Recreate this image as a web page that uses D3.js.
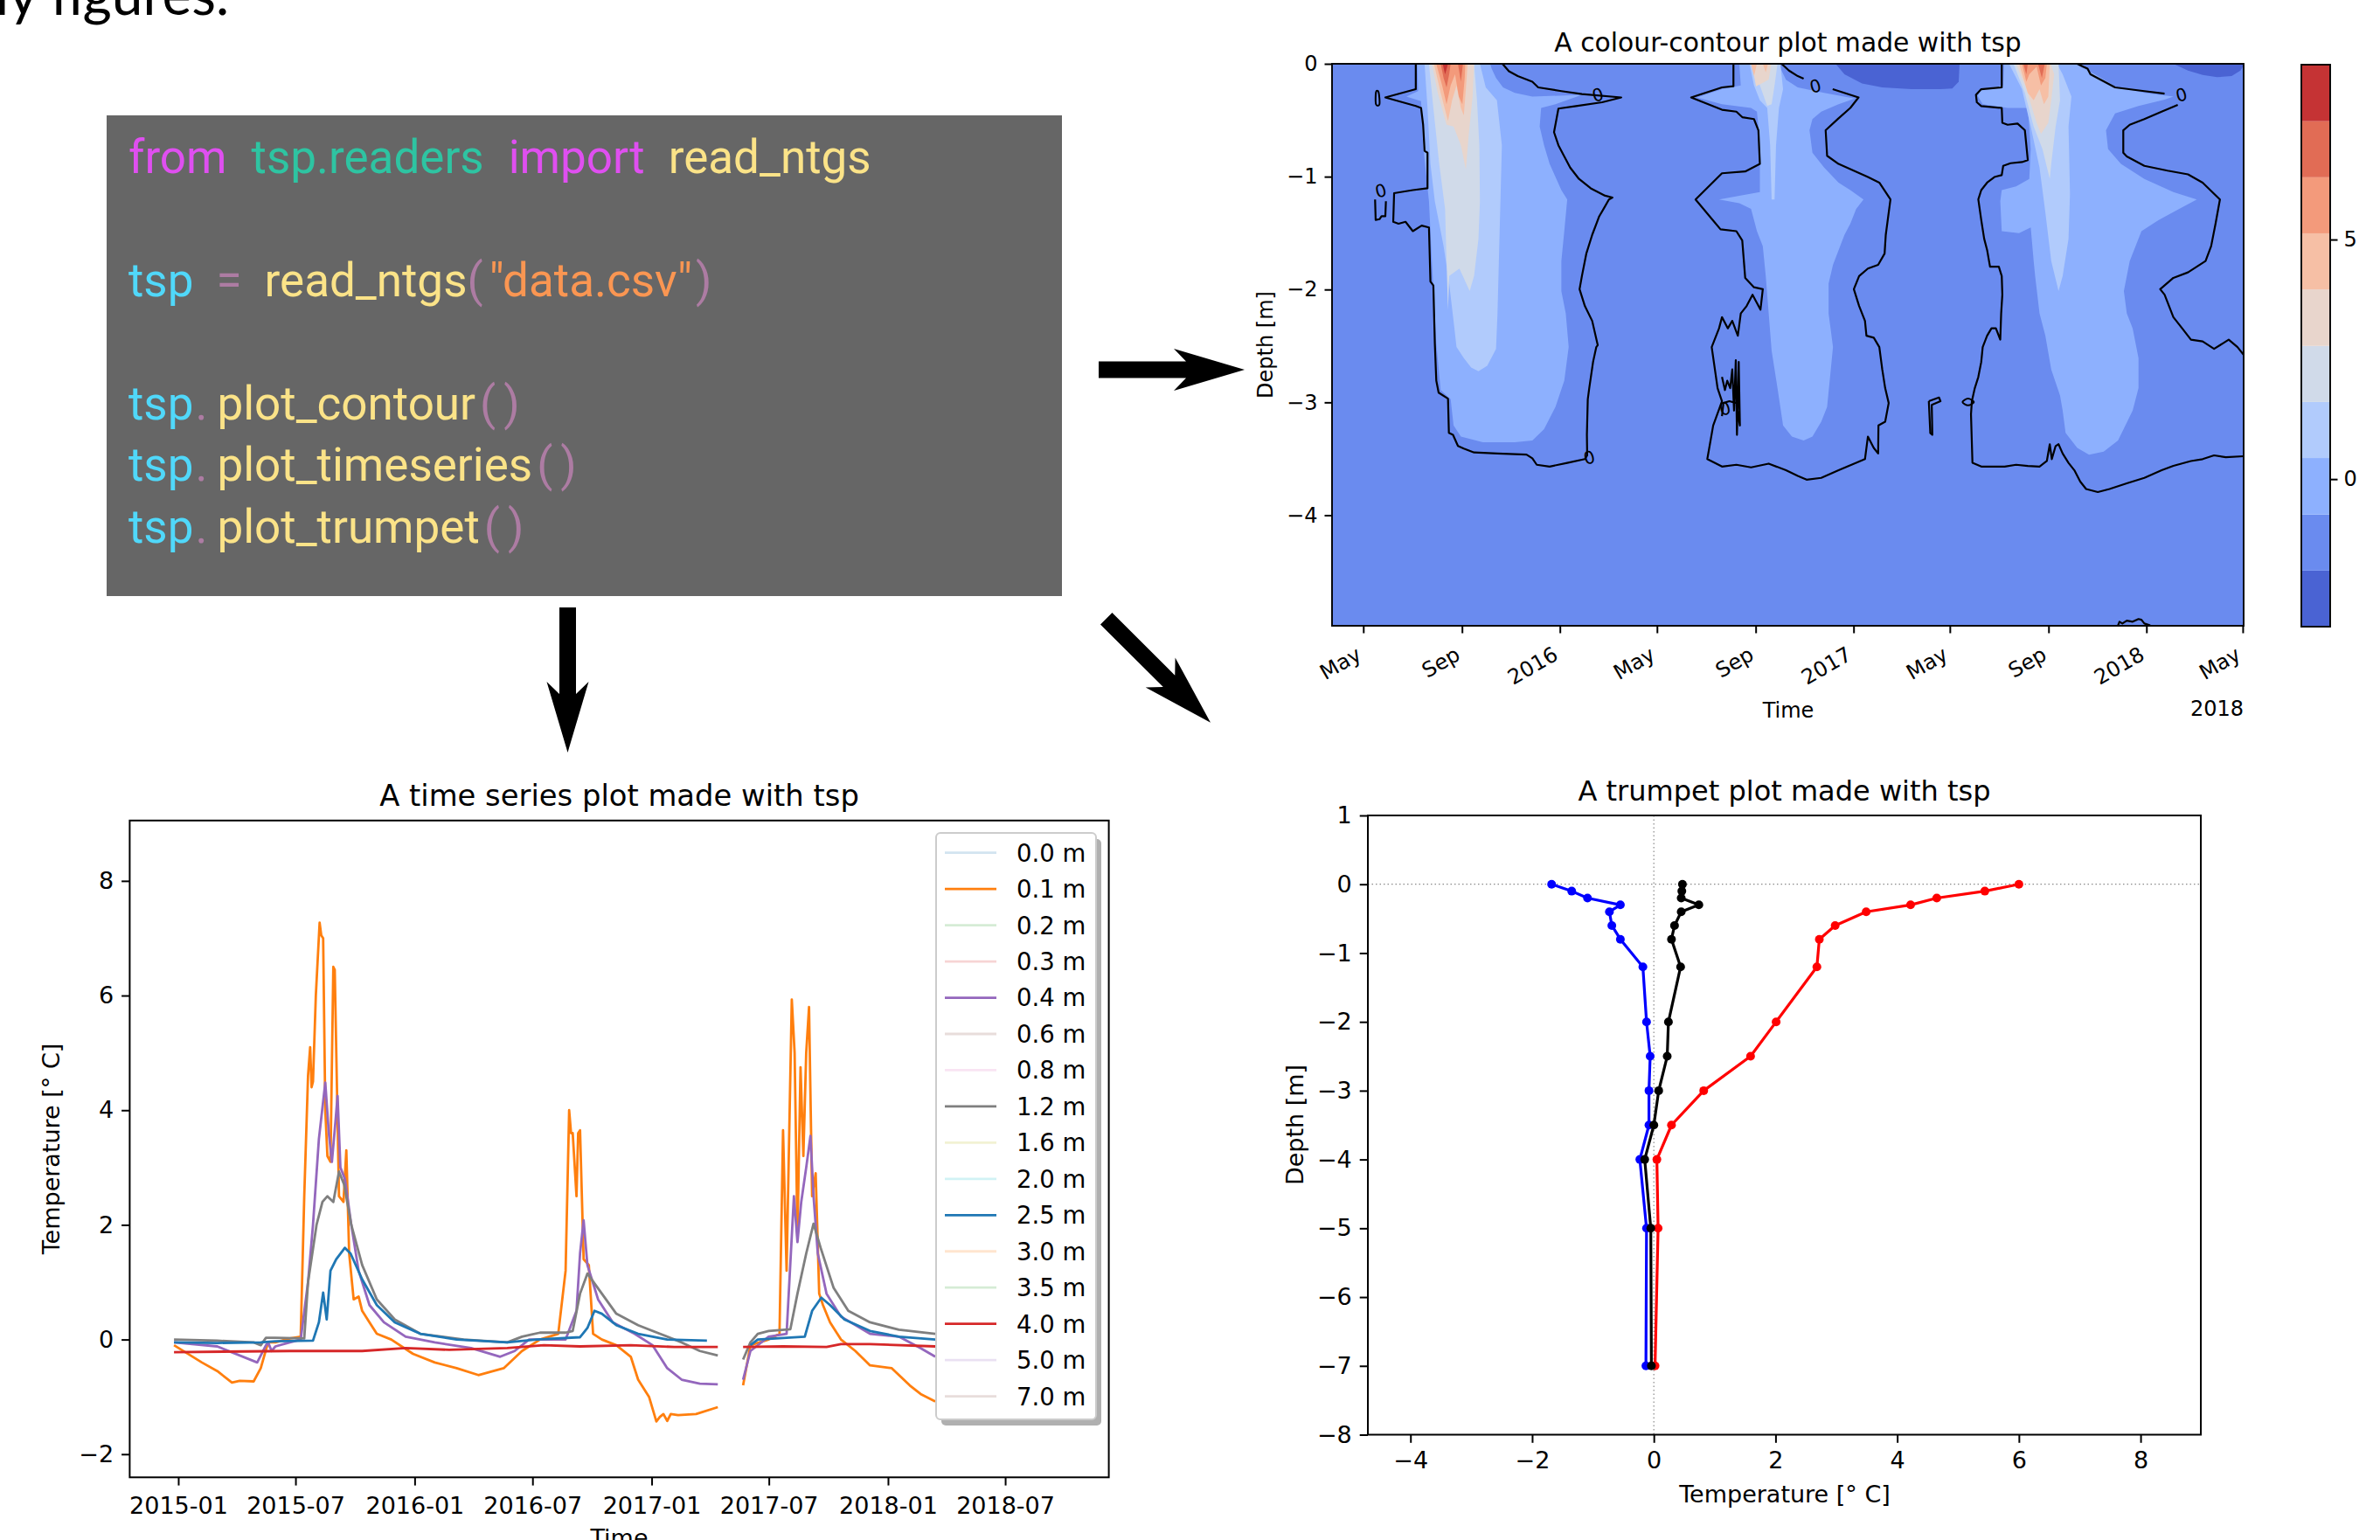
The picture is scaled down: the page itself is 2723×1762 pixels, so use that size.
<!DOCTYPE html>
<html>
<head>
<meta charset="utf-8">
<script src="https://cdn.jsdelivr.net/npm/d3@7"></script>
<style>
	body { margin: 0; background: #fff; }
	svg { display: block; }
</style>
</head>
<body>
<svg width="2723" height="1762"></svg>
<script>
// ---------- data ----------
// contour levels (deg C) and their colours, bottom to top
const levels = [-3.08, -1.91, -0.74, 0.44, 1.61, 2.78, 3.96, 5.13, 6.30, 7.47, 8.65];
const levelColors = ["#4a63d3", "#6a8bef", "#8db0fe", "#b1cbfc", "#d0dae9", "#e8d5cc", "#f6bfa5", "#f39a7b", "#e16c55", "#c53334"];

// filled contour regions as [decimal year, depth m]
const cold2016 = [[2016.939,0],[2016.969,-0.093],[2017.029,-0.175],[2017.098,-0.209],[2017.198,-0.225],[2017.297,-0.225],[2017.337,-0.219],[2017.359,-0.159],[2017.362,0]];
const cold2018 = [[2018.092,0],[2018.142,-0.06],[2018.192,-0.099],[2018.241,-0.119],[2018.291,-0.109],[2018.321,-0.06],[2018.336,0]];

const thaw2015_b3 = [[2015.513,0],[2015.516,-0.242],[2015.476,-0.291],[2015.526,-0.331],[2015.533,-0.722],[2015.553,-1.218],[2015.563,-1.748],[2015.578,-2.477],[2015.593,-2.891],[2015.627,-2.973],[2015.637,-3.205],[2015.662,-3.304],[2015.737,-3.354],[2015.846,-3.354],[2015.906,-3.338],[2015.946,-3.238],[2015.985,-3.04],[2016.015,-2.808],[2016.03,-2.51],[2016.02,-2.212],[2016.005,-2.013],[2016.005,-1.748],[2016.015,-1.483],[2016.025,-1.202],[2016.005,-1.119],[2015.965,-0.887],[2015.946,-0.722],[2015.931,-0.556],[2015.936,-0.391],[2015.985,-0.358],[2016.075,-0.275],[2015.906,-0.291],[2015.846,-0.258],[2015.806,-0.209],[2015.782,-0.126],[2015.767,-0.043],[2015.762,0]];
const thaw2015_b4 = [[2015.538,0],[2015.548,-0.391],[2015.558,-0.887],[2015.573,-1.218],[2015.603,-1.616],[2015.622,-1.947],[2015.637,-2.278],[2015.647,-2.51],[2015.672,-2.609],[2015.697,-2.692],[2015.722,-2.725],[2015.752,-2.675],[2015.782,-2.526],[2015.787,-2.212],[2015.792,-1.715],[2015.797,-1.218],[2015.802,-0.722],[2015.785,-0.324],[2015.747,-0.209],[2015.727,0]];
const thaw2015_b5 = [[2015.553,0],[2015.568,-0.391],[2015.588,-0.887],[2015.608,-1.285],[2015.613,-1.748],[2015.618,-2.179],[2015.622,-1.881],[2015.657,-1.814],[2015.692,-2.013],[2015.707,-1.881],[2015.722,-1.55],[2015.727,-1.218],[2015.725,-0.722],[2015.717,-0.324],[2015.707,0]];
const thaw2015_b6 = [[2015.563,0],[2015.583,-0.258],[2015.613,-0.54],[2015.637,-0.556],[2015.662,-0.722],[2015.679,-0.937],[2015.689,-0.622],[2015.702,-0.291],[2015.707,0]];
const thaw2015_b7 = [[2015.57,0],[2015.593,-0.258],[2015.618,-0.507],[2015.632,-0.324],[2015.647,-0.192],[2015.662,-0.391],[2015.672,-0.457],[2015.679,-0.225],[2015.685,0]];
const thaw2015_b8 = [[2015.578,0],[2015.598,-0.192],[2015.613,-0.358],[2015.627,-0.192],[2015.642,-0.093],[2015.655,-0.291],[2015.667,-0.358],[2015.675,-0.126],[2015.677,0]];
const thaw2015_b9a = [[2015.593,0],[2015.603,-0.126],[2015.613,-0.209],[2015.622,-0.093],[2015.627,0]];
const thaw2015_b9b = [[2015.652,0],[2015.662,-0.159],[2015.669,0]];
const thaw2015_b10 = [[2015.6,0],[2015.608,-0.093],[2015.618,0]];

const thaw2016_b3 = [[2016.611,0],[2016.616,-0.192],[2016.552,-0.225],[2016.467,-0.298],[2016.552,-0.358],[2016.651,-0.391],[2016.671,-0.424],[2016.676,-0.556],[2016.681,-0.887],[2016.681,-1.136],[2016.611,-1.169],[2016.542,-1.202],[2016.611,-1.235],[2016.651,-1.285],[2016.671,-1.483],[2016.691,-1.616],[2016.701,-1.881],[2016.711,-2.212],[2016.721,-2.543],[2016.741,-2.874],[2016.76,-3.205],[2016.79,-3.304],[2016.83,-3.338],[2016.86,-3.304],[2016.89,-3.172],[2016.91,-3.04],[2016.92,-2.775],[2016.93,-2.51],[2016.915,-2.212],[2016.915,-1.947],[2016.93,-1.781],[2016.969,-1.516],[2016.989,-1.417],[2017.009,-1.285],[2017.034,-1.202],[2016.989,-1.119],[2016.949,-1.053],[2016.9,-0.92],[2016.86,-0.788],[2016.85,-0.589],[2016.86,-0.49],[2016.89,-0.424],[2016.949,-0.358],[2017.004,-0.308],[2016.9,-0.258],[2016.81,-0.209],[2016.77,-0.142],[2016.755,-0.06],[2016.746,0]];
const thaw2016_b4 = [[2016.646,0],[2016.661,-0.192],[2016.681,-0.324],[2016.706,-0.391],[2016.716,-0.722],[2016.721,-1.202],[2016.731,-1.202],[2016.736,-0.722],[2016.746,-0.391],[2016.76,-0.225],[2016.751,0]];
const thaw2016_b5 = [[2016.656,0],[2016.681,-0.192],[2016.706,-0.374],[2016.721,-0.358],[2016.731,-0.192],[2016.741,0]];
const thaw2016_b6 = [[2016.653,0],[2016.668,-0.2],[2016.69,-0.17],[2016.711,-0.14],[2016.72,0]];
const thaw2016_b7a = [[2016.651,0],[2016.661,-0.109],[2016.671,0]];
const thaw2016_b7b = [[2016.691,0],[2016.701,-0.076],[2016.709,0]];

const thaw2017_b3 = [[2017.514,0],[2017.511,-0.192],[2017.436,-0.225],[2017.424,-0.285],[2017.441,-0.358],[2017.526,-0.391],[2017.595,-0.391],[2017.6,-0.556],[2017.605,-0.755],[2017.6,-1.02],[2017.555,-1.086],[2017.506,-1.119],[2017.501,-1.218],[2017.506,-1.483],[2017.565,-1.5],[2017.605,-1.45],[2017.615,-1.748],[2017.62,-1.881],[2017.635,-2.212],[2017.655,-2.41],[2017.675,-2.708],[2017.705,-2.94],[2017.714,-3.073],[2017.724,-3.271],[2017.764,-3.404],[2017.804,-3.463],[2017.854,-3.437],[2017.903,-3.338],[2017.953,-3.073],[2017.973,-2.874],[2017.973,-2.609],[2017.953,-2.344],[2017.933,-2.212],[2017.923,-2.013],[2017.943,-1.748],[2017.983,-1.483],[2018.042,-1.384],[2018.112,-1.285],[2018.172,-1.202],[2018.092,-1.136],[2017.993,-1.02],[2017.913,-0.887],[2017.869,-0.755],[2017.862,-0.589],[2017.893,-0.44],[2017.973,-0.374],[2018.062,-0.318],[2018.092,-0.291],[2017.993,-0.258],[2017.893,-0.199],[2017.824,-0.093],[2017.774,-0.026],[2017.764,0]];
const thaw2017_b4 = [[2017.531,0],[2017.575,-0.225],[2017.605,-0.556],[2017.635,-0.92],[2017.655,-1.318],[2017.675,-1.748],[2017.7,-2.013],[2017.714,-1.881],[2017.734,-1.55],[2017.739,-1.152],[2017.734,-0.556],[2017.744,-0.291],[2017.714,-0.093],[2017.695,0]];
const thaw2017_b5 = [[2017.546,0],[2017.585,-0.258],[2017.615,-0.556],[2017.645,-0.755],[2017.67,-1.02],[2017.675,-0.887],[2017.69,-0.556],[2017.705,-0.324],[2017.7,0]];
const thaw2017_b6 = [[2017.555,0],[2017.59,-0.225],[2017.625,-0.523],[2017.64,-0.622],[2017.665,-0.523],[2017.675,-0.324],[2017.685,-0.093],[2017.673,0]];
const thaw2017_b7 = [[2017.565,0],[2017.595,-0.258],[2017.615,-0.324],[2017.635,-0.225],[2017.65,-0.358],[2017.665,-0.291],[2017.67,0]];
const thaw2017_b8 = [[2017.575,0],[2017.59,-0.159],[2017.6,-0.093],[2017.625,-0.026],[2017.64,-0.192],[2017.655,-0.126],[2017.66,0]];
const thaw2017_b9a = [[2017.58,0],[2017.59,-0.093],[2017.595,0]];
const thaw2017_b9b = [[2017.63,0],[2017.643,-0.126],[2017.653,0]];

// 0 degC isotherm traces
const zero2015 = [[2015.508,0],[2015.508,-0.225],[2015.404,-0.298],[2015.508,-0.374],[2015.526,-0.391],[2015.533,-0.54],[2015.538,-0.771],[2015.548,-0.788],[2015.548,-1.103],[2015.498,-1.119],[2015.434,-1.146],[2015.431,-1.40],[2015.449,-1.417],[2015.473,-1.40],[2015.498,-1.483],[2015.528,-1.434],[2015.553,-1.45],[2015.558,-1.93],[2015.568,-1.964],[2015.573,-2.477],[2015.578,-2.808],[2015.586,-2.914],[2015.618,-2.967],[2015.621,-3.271],[2015.635,-3.288],[2015.652,-3.387],[2015.672,-3.41],[2015.707,-3.444],[2015.787,-3.453],[2015.886,-3.463],[2015.906,-3.496],[2015.921,-3.553],[2015.965,-3.569],[2016.025,-3.536],[2016.085,-3.503],[2016.093,-3.47],[2016.092,-3.288],[2016.095,-2.973],[2016.10,-2.874],[2016.113,-2.642],[2016.124,-2.51],[2016.129,-2.493],[2016.11,-2.278],[2016.085,-2.146],[2016.067,-1.997],[2016.075,-1.881],[2016.09,-1.682],[2016.11,-1.516],[2016.134,-1.351],[2016.149,-1.285],[2016.167,-1.202],[2016.179,-1.185],[2016.154,-1.169],[2016.105,-1.103],[2016.065,-1.02],[2016.035,-0.92],[2016.015,-0.821],[2015.995,-0.722],[2015.98,-0.606],[2015.995,-0.397],[2016.055,-0.374],[2016.144,-0.341],[2016.209,-0.298],[2016.075,-0.268],[2016.005,-0.242],[2015.926,-0.209],[2015.906,-0.159],[2015.856,-0.109],[2015.826,-0.066],[2015.804,0]];
const zero2015hook = [[2015.369,-1.202],[2015.371,-1.384],[2015.384,-1.377],[2015.391,-1.351],[2015.404,-1.351],[2015.406,-1.218]];
const zero2016 = [[2016.591,0],[2016.591,-0.199],[2016.552,-0.209],[2016.447,-0.298],[2016.552,-0.407],[2016.601,-0.424],[2016.621,-0.473],[2016.661,-0.49],[2016.676,-0.589],[2016.681,-0.887],[2016.631,-0.954],[2016.552,-0.97],[2016.462,-1.202],[2016.547,-1.467],[2016.601,-1.483],[2016.621,-1.566],[2016.631,-1.897],[2016.661,-1.98],[2016.691,-1.997],[2016.683,-2.179],[2016.656,-2.046],[2016.636,-2.146],[2016.616,-2.212],[2016.606,-2.41],[2016.587,-2.278],[2016.572,-2.344],[2016.552,-2.245],[2016.542,-2.344],[2016.517,-2.51],[2016.537,-2.874],[2016.552,-2.99],[2016.522,-3.205],[2016.502,-3.503],[2016.552,-3.569],[2016.601,-3.553],[2016.651,-3.576],[2016.711,-3.543],[2016.77,-3.602],[2016.81,-3.652],[2016.84,-3.685],[2016.89,-3.669],[2016.949,-3.602],[2017.009,-3.536],[2017.039,-3.503],[2017.049,-3.304],[2017.069,-3.404],[2017.084,-3.453],[2017.085,-3.205],[2017.108,-3.172],[2017.12,-3.006],[2017.108,-2.874],[2017.098,-2.708],[2017.088,-2.51],[2017.069,-2.427],[2017.044,-2.41],[2017.039,-2.278],[2017.019,-2.146],[2017.001,-1.997],[2017.019,-1.881],[2017.049,-1.814],[2017.084,-1.781],[2017.106,-1.682],[2017.11,-1.516],[2017.126,-1.202],[2017.088,-1.053],[2017.049,-1.003],[2016.949,-0.887],[2016.91,-0.815],[2016.905,-0.589],[2016.949,-0.483],[2016.989,-0.391],[2017.017,-0.298],[2016.929,-0.225]];
const zero2016top = [[2016.83,-0.132],[2016.81,-0.109],[2016.78,-0.06],[2016.755,0]];
const zero2016spikes = [[2016.552,-2.775],[2016.562,-2.891],[2016.57,-2.808],[2016.58,-2.874],[2016.587,-2.708],[2016.593,-3.073],[2016.599,-2.626],[2016.603,-3.288],[2016.609,-2.642],[2016.613,-3.205],[2016.601,-3.006],[2016.577,-2.99],[2016.557,-3.006],[2016.552,-3.122]];
const zero2017hook = [[2017.257,-2.99],[2017.292,-2.957],[2017.297,-2.99],[2017.267,-3.023],[2017.269,-3.288],[2017.262,-3.271],[2017.257,-2.99]];
const zero2017 = [[2017.506,0],[2017.506,-0.209],[2017.436,-0.225],[2017.418,-0.275],[2017.421,-0.341],[2017.436,-0.374],[2017.506,-0.391],[2017.508,-0.523],[2017.526,-0.54],[2017.56,-0.53],[2017.585,-0.589],[2017.59,-0.722],[2017.595,-0.854],[2017.575,-0.871],[2017.536,-0.881],[2017.511,-0.904],[2017.506,-0.987],[2017.481,-1.003],[2017.456,-1.053],[2017.436,-1.119],[2017.426,-1.202],[2017.436,-1.384],[2017.446,-1.55],[2017.456,-1.649],[2017.466,-1.798],[2017.496,-1.798],[2017.506,-1.881],[2017.508,-2.046],[2017.504,-2.212],[2017.501,-2.444],[2017.486,-2.344],[2017.471,-2.344],[2017.456,-2.41],[2017.441,-2.51],[2017.436,-2.642],[2017.426,-2.775],[2017.414,-2.874],[2017.404,-2.99],[2017.401,-3.106],[2017.406,-3.536],[2017.436,-3.569],[2017.476,-3.569],[2017.516,-3.569],[2017.555,-3.553],[2017.595,-3.563],[2017.635,-3.569],[2017.66,-3.52],[2017.67,-3.371],[2017.677,-3.503],[2017.69,-3.387],[2017.7,-3.371],[2017.714,-3.453],[2017.734,-3.536],[2017.754,-3.602],[2017.774,-3.702],[2017.794,-3.768],[2017.834,-3.795],[2017.874,-3.768],[2017.933,-3.718],[2017.993,-3.669],[2018.052,-3.602],[2018.092,-3.563],[2018.152,-3.52],[2018.192,-3.503],[2018.231,-3.47],[2018.271,-3.486],[2018.336,-3.477]];
const zero2018 = [[2018.336,-2.593],[2018.311,-2.51],[2018.281,-2.444],[2018.261,-2.477],[2018.231,-2.526],[2018.192,-2.46],[2018.152,-2.444],[2018.122,-2.344],[2018.092,-2.245],[2018.062,-2.046],[2018.047,-1.997],[2018.092,-1.897],[2018.142,-1.848],[2018.172,-1.798],[2018.202,-1.748],[2018.221,-1.616],[2018.236,-1.417],[2018.251,-1.202],[2018.192,-1.053],[2018.142,-0.98],[2018.072,-0.947],[2017.993,-0.904],[2017.933,-0.821],[2017.921,-0.788],[2017.921,-0.589],[2017.943,-0.54],[2017.993,-0.49],[2018.052,-0.424],[2018.107,-0.364]];
const zero2018top = [[2018.062,-0.265],[2017.993,-0.242],[2017.893,-0.209],[2017.844,-0.142],[2017.809,-0.093],[2017.799,-0.043],[2017.784,-0.026],[2017.764,0]];
const zero2018bottom = [[2017.903,-4.977],[2017.908,-4.944],[2017.918,-4.96],[2017.933,-4.934],[2017.953,-4.944],[2017.973,-4.92],[2017.983,-4.927],[2017.993,-4.96],[2018.013,-4.977]];
const zeroLoops = [
	[[2015.372,-0.252],[2015.381,-0.252],[2015.384,-0.358],[2015.372,-0.358]],
	[[2017.372,-2.997],[2017.391,-2.967],[2017.411,-2.997],[2017.391,-3.026]]
];
const zeroLabels = [[2016.129,-0.275],[2015.389,-1.126],[2016.10,-3.49],[2016.87,-0.199],[2016.562,-3.056],[2018.12,-0.275]];

// time series, [decimal year, deg C], null = data gap
const ts01 = [[2014.982,-0.1],[2015.10,-0.4],[2015.165,-0.55],[2015.227,-0.75],[2015.260,-0.72],[2015.319,-0.73],[2015.349,-0.5],[2015.380,-0.05],[2015.411,-0.05],[2015.472,0.02],[2015.518,0.05],[2015.533,2.5],[2015.549,4.6],[2015.558,5.1],[2015.564,4.4],[2015.570,4.5],[2015.582,6.0],[2015.598,7.27],[2015.605,7.05],[2015.613,7.0],[2015.622,4.0],[2015.631,3.2],[2015.644,3.1],[2015.656,6.5],[2015.662,6.45],[2015.680,2.5],[2015.699,2.4],[2015.711,3.3],[2015.723,1.5],[2015.742,0.7],[2015.763,0.75],[2015.778,0.5],[2015.809,0.3],[2015.840,0.1],[2015.901,0.0],[2015.993,-0.25],[2016.085,-0.4],[2016.177,-0.5],[2016.269,-0.62],[2016.376,-0.5],[2016.453,-0.2],[2016.529,0.0],[2016.606,0.1],[2016.637,1.2],[2016.652,4.0],[2016.660,3.6],[2016.667,3.6],[2016.683,2.5],[2016.690,3.6],[2016.698,3.65],[2016.713,1.4],[2016.735,1.3],[2016.753,0.1],[2016.790,0.0],[2016.851,-0.1],[2016.912,-0.3],[2016.943,-0.7],[2016.989,-1.0],[2017.020,-1.43],[2017.035,-1.35],[2017.050,-1.3],[2017.066,-1.42],[2017.081,-1.3],[2017.112,-1.32],[2017.188,-1.3],[2017.280,-1.18],
	null,
	[2017.387,-0.8],[2017.418,-0.1],[2017.495,0.0],[2017.541,0.1],[2017.556,3.65],[2017.571,1.2],[2017.593,5.93],[2017.605,5.0],[2017.617,1.8],[2017.630,4.75],[2017.642,3.2],[2017.654,5.0],[2017.666,5.8],[2017.679,2.5],[2017.694,2.9],[2017.709,0.8],[2017.725,0.6],[2017.755,0.3],[2017.801,0.0],[2017.862,-0.2],[2017.924,-0.45],[2018.016,-0.5],[2018.092,-0.8],[2018.138,-0.95],[2018.200,-1.08]];
const ts04 = [[2014.982,-0.05],[2015.165,-0.12],[2015.334,-0.4],[2015.371,-0.1],[2015.380,-0.05],[2015.395,-0.2],[2015.411,-0.12],[2015.472,-0.05],[2015.518,0.0],[2015.549,1.0],[2015.570,2.0],[2015.595,3.5],[2015.622,4.48],[2015.637,3.6],[2015.650,3.1],[2015.665,3.8],[2015.674,4.25],[2015.686,3.0],[2015.705,2.8],[2015.732,2.0],[2015.763,1.2],[2015.809,0.6],[2015.870,0.3],[2015.962,0.05],[2016.085,-0.05],[2016.238,-0.15],[2016.361,-0.3],[2016.422,-0.2],[2016.483,0.0],[2016.637,0.0],[2016.683,0.5],[2016.698,1.5],[2016.713,2.08],[2016.729,1.3],[2016.744,1.1],[2016.774,0.7],[2016.836,0.3],[2016.928,0.1],[2017.004,-0.1],[2017.066,-0.5],[2017.127,-0.7],[2017.204,-0.77],[2017.280,-0.78],
	null,
	[2017.387,-0.7],[2017.418,-0.2],[2017.495,0.05],[2017.571,0.1],[2017.602,2.5],[2017.617,1.7],[2017.633,2.4],[2017.654,3.0],[2017.672,3.55],[2017.685,2.5],[2017.703,1.5],[2017.740,0.8],[2017.801,0.4],[2017.924,0.1],[2018.046,0.05],[2018.138,-0.15],[2018.200,-0.3]];
const ts12 = [[2014.982,0.0],[2015.165,-0.02],[2015.319,-0.05],[2015.349,-0.1],[2015.371,0.03],[2015.411,0.03],[2015.533,0.02],[2015.549,1.0],[2015.585,2.0],[2015.610,2.4],[2015.631,2.5],[2015.656,2.4],[2015.680,2.93],[2015.702,2.7],[2015.732,2.0],[2015.778,1.3],[2015.840,0.7],[2015.916,0.35],[2016.024,0.1],[2016.207,0.0],[2016.391,-0.05],[2016.453,0.05],[2016.529,0.12],[2016.637,0.12],[2016.667,0.15],[2016.698,0.8],[2016.729,1.15],[2016.790,0.8],[2016.851,0.45],[2016.943,0.25],[2017.035,0.1],[2017.127,-0.05],[2017.204,-0.2],[2017.280,-0.28],
	null,
	[2017.387,-0.35],[2017.418,-0.05],[2017.449,0.1],[2017.495,0.15],[2017.587,0.18],[2017.617,0.8],[2017.654,1.5],[2017.685,2.02],[2017.715,1.6],[2017.770,0.9],[2017.832,0.5],[2017.924,0.3],[2018.046,0.17],[2018.200,0.1]];
const ts25 = [[2014.982,-0.05],[2015.165,-0.06],[2015.349,-0.05],[2015.411,-0.03],[2015.570,-0.02],[2015.595,0.3],[2015.613,0.82],[2015.628,0.35],[2015.644,1.2],[2015.668,1.4],[2015.705,1.6],[2015.729,1.5],[2015.778,1.05],[2015.840,0.6],[2015.916,0.3],[2016.024,0.1],[2016.177,0.0],[2016.391,-0.05],[2016.514,0.0],[2016.698,0.04],[2016.729,0.2],[2016.759,0.5],[2016.790,0.45],[2016.851,0.25],[2016.943,0.1],[2017.066,0.0],[2017.234,-0.02],
	null,
	[2017.418,-0.1],[2017.449,0.0],[2017.648,0.05],[2017.679,0.5],[2017.718,0.73],[2017.755,0.6],[2017.816,0.35],[2017.924,0.15],[2018.046,0.05],[2018.200,0.0]];
const ts40 = [[2014.982,-0.22],[2015.472,-0.2],[2015.778,-0.2],[2015.962,-0.15],[2016.146,-0.18],[2016.391,-0.15],[2016.545,-0.1],[2016.698,-0.12],[2016.912,-0.1],[2017.096,-0.13],[2017.280,-0.13],
	null,
	[2017.387,-0.13],[2017.556,-0.12],[2017.740,-0.13],[2017.801,-0.08],[2017.924,-0.08],[2018.200,-0.12]];

const legendDepths = ["0.0 m","0.1 m","0.2 m","0.3 m","0.4 m","0.6 m","0.8 m","1.2 m","1.6 m","2.0 m","2.5 m","3.0 m","3.5 m","4.0 m","5.0 m","7.0 m"];
const shownDepths = ["0.1 m","0.4 m","1.2 m","2.5 m","4.0 m"];
const shownSeries = [ts01, ts04, ts12, ts25, ts40];

// trumpet plot
const trumpetDepths = [0, -0.1, -0.2, -0.3, -0.4, -0.6, -0.8, -1.2, -2.0, -2.5, -3.0, -3.5, -4.0, -5.0, -7.0];
const trumpetMin = [-1.68, -1.35, -1.09, -0.55, -0.73, -0.69, -0.55, -0.18, -0.12, -0.06, -0.08, -0.08, -0.23, -0.12, -0.13];
const trumpetMax = [6.0, 5.44, 4.65, 4.22, 3.49, 2.98, 2.72, 2.68, 2.01, 1.59, 0.82, 0.29, 0.05, 0.07, 0.02];
const trumpetMean = [0.47, 0.46, 0.45, 0.74, 0.45, 0.34, 0.29, 0.44, 0.24, 0.22, 0.08, 0.0, -0.15, -0.05, -0.04];

// ---------- helpers ----------
const svg = d3.select("svg");
const FONT = "DejaVu Sans, sans-serif";
const MINUS = "\u2212";
const num = d => d < 0 ? MINUS + Math.abs(d) : String(d);

function yd(y) {
	const yr = Math.floor(y);
	const a = Date.UTC(yr, 0, 1), b = Date.UTC(yr + 1, 0, 1);
	return new Date(a + (y - yr) * (b - a));
}

function tidyAxis(g, size) {
	g.attr("font-family", FONT).attr("font-size", size);
	g.select(".domain").remove();
	g.selectAll(".tick line").attr("stroke", "#000").attr("stroke-width", 2);
	g.selectAll(".tick text").attr("fill", "#000");
}

function label(x, y, text, size, opts = {}) {
	const t = svg.append("text")
		.attr("x", x).attr("y", y)
		.attr("font-family", opts.font || FONT)
		.attr("font-size", size)
		.attr("text-anchor", opts.anchor || "middle")
		.attr("fill", opts.fill || "#000")
		.text(text);
	if (opts.rotate) t.attr("transform", `rotate(${opts.rotate},${x},${y})`);
	return t;
}

function arrow(x1, y1, x2, y2) {
	const L = Math.hypot(x2 - x1, y2 - y1);
	const ang = Math.atan2(y2 - y1, x2 - x1) * 180 / Math.PI;
	const hl = 81, hw = 24, sw = 9.5, notch = 14;
	const pts = [[0, -sw], [L - hl + notch, -sw], [L - hl, -hw], [L, 0], [L - hl, hw], [L - hl + notch, sw], [0, sw]];
	svg.append("polygon")
		.attr("points", pts.map(p => p.join(",")).join(" "))
		.attr("transform", `translate(${x1},${y1}) rotate(${ang})`)
		.attr("fill", "#000");
}

// ---------- header text + code box ----------
label(262, 17, "ly figures.", 64, {font: "Lato, sans-serif", anchor: "end"});

svg.append("rect").attr("x", 122).attr("y", 132).attr("width", 1093).attr("height", 550).attr("fill", "#666666");

const pink = "#df4ff0", teal = "#2ec4a2", yellow = "#fbe388", cyan = "#50d8fa", mauve = "#ad7ca3", orange = "#fa9652";
const codeLines = [
	{y: 198, tokens: [["from", pink, 0], ["tsp.readers", teal, 28], ["import", pink, 28], ["read_ntgs", yellow, 27]]},
	{y: 339, tokens: [["tsp", cyan, 0], ["=", mauve, 26], ["read_ntgs", yellow, 26], ["(", mauve, 0], ["\"data.csv\"", orange, 7], [")", mauve, 4]]},
	{y: 480, tokens: [["tsp", cyan, 0], [".", mauve, 2], ["plot_contour", yellow, 11], ["(", mauve, 5], [")", mauve, 9]]},
	{y: 550, tokens: [["tsp", cyan, 0], [".", mauve, 2], ["plot_timeseries", yellow, 11], ["(", mauve, 5], [")", mauve, 9]]},
	{y: 621, tokens: [["tsp", cyan, 0], [".", mauve, 2], ["plot_trumpet", yellow, 11], ["(", mauve, 5], [")", mauve, 9]]}
];
codeLines.forEach(line => {
	const t = svg.append("text").attr("x", 147).attr("y", line.y)
		.attr("font-family", "Roboto, sans-serif").attr("font-size", 53);
	line.tokens.forEach(([s, c, dx]) => t.append("tspan").attr("dx", dx).attr("fill", c).text(s));
});

arrow(1257, 423, 1424, 423);
arrow(649.5, 695, 649.5, 861);
arrow(1265.7, 707.7, 1385, 826.7);

// ---------- colour-contour plot ----------
const cbox = {x0: 1524, x1: 2567, y0: 73, y1: 716};
const cx = d3.scaleUtc().domain([yd(2015.222), yd(2018.332)]).range([cbox.x0, cbox.x1]);
const cy = d3.scaleLinear().domain([0, -4.98]).range([cbox.y0, cbox.y1]);

svg.append("clipPath").attr("id", "cclip").append("rect")
	.attr("x", cbox.x0).attr("y", cbox.y0).attr("width", cbox.x1 - cbox.x0).attr("height", cbox.y1 - cbox.y0);
const cg = svg.append("g").attr("clip-path", "url(#cclip)");
cg.append("rect")
	.attr("x", cbox.x0).attr("y", cbox.y0).attr("width", cbox.x1 - cbox.x0).attr("height", cbox.y1 - cbox.y0)
	.attr("fill", levelColors[1]);

const regions = [
	{band: 0, pts: cold2016}, {band: 0, pts: cold2018},
	{band: 2, pts: thaw2015_b3}, {band: 2, pts: thaw2016_b3}, {band: 2, pts: thaw2017_b3},
	{band: 3, pts: thaw2015_b4}, {band: 3, pts: thaw2016_b4}, {band: 3, pts: thaw2017_b4},
	{band: 4, pts: thaw2015_b5}, {band: 4, pts: thaw2016_b5}, {band: 4, pts: thaw2017_b5},
	{band: 5, pts: thaw2015_b6}, {band: 5, pts: thaw2016_b6}, {band: 5, pts: thaw2017_b6},
	{band: 6, pts: thaw2015_b7}, {band: 6, pts: thaw2016_b7a}, {band: 6, pts: thaw2016_b7b}, {band: 6, pts: thaw2017_b7},
	{band: 7, pts: thaw2015_b8}, {band: 7, pts: thaw2017_b8},
	{band: 8, pts: thaw2015_b9a}, {band: 8, pts: thaw2015_b9b}, {band: 8, pts: thaw2017_b9a}, {band: 8, pts: thaw2017_b9b},
	{band: 9, pts: thaw2015_b10}
];
const cline = d3.line().x(d => cx(yd(d[0]))).y(d => cy(d[1]));

cg.selectAll("path.band")
	.data(regions)
	.join("path")
	.attr("class", "band")
	.attr("d", r => cline(r.pts) + "Z")
	.attr("fill", r => levelColors[r.band]);

const zeroLines = [zero2015, zero2015hook, zero2016, zero2016top, zero2016spikes, zero2017hook, zero2017, zero2018, zero2018top, zero2018bottom];
cg.selectAll("path.zero")
	.data(zeroLines)
	.join("path")
	.attr("class", "zero")
	.attr("d", cline)
	.attr("fill", "none")
	.attr("stroke", "#000")
	.attr("stroke-width", 2.2)
	.attr("stroke-linejoin", "round");

cg.selectAll("path.loop")
	.data(zeroLoops)
	.join("path")
	.attr("class", "loop")
	.attr("d", d3.line().x(d => cx(yd(d[0]))).y(d => cy(d[1])).curve(d3.curveCardinalClosed))
	.attr("fill", "none")
	.attr("stroke", "#000")
	.attr("stroke-width", 2);

cg.selectAll("text.clabel")
	.data(zeroLabels)
	.join("text")
	.attr("class", "clabel")
	.attr("x", d => cx(yd(d[0])))
	.attr("y", d => cy(d[1]))
	.attr("dy", "0.35em")
	.attr("text-anchor", "middle")
	.attr("font-family", FONT)
	.attr("font-size", 20)
	.attr("transform", d => `rotate(-15,${cx(yd(d[0]))},${cy(d[1])})`)
	.text("0");

svg.append("rect")
	.attr("x", cbox.x0).attr("y", cbox.y0).attr("width", cbox.x1 - cbox.x0).attr("height", cbox.y1 - cbox.y0)
	.attr("fill", "none").attr("stroke", "#000").attr("stroke-width", 1.9);

const monthFmt = d => d.getUTCMonth() === 0 ? d3.utcFormat("%Y")(d) : d3.utcFormat("%b")(d);
const cxAxis = svg.append("g").attr("transform", `translate(0,${cbox.y1})`)
	.call(d3.axisBottom(cx).tickValues(cx.ticks(d3.utcMonth.every(4))).tickFormat(monthFmt).tickSize(8.5).tickSizeOuter(0));
tidyAxis(cxAxis, 24);
cxAxis.selectAll(".tick text")
	.attr("y", 0).attr("dy", "0.75em")
	.attr("text-anchor", "end")
	.attr("transform", "translate(-10,22) rotate(-30)");

const cyAxis = svg.append("g").attr("transform", `translate(${cbox.x0},0)`)
	.call(d3.axisLeft(cy).tickValues([0, -1, -2, -3, -4]).tickFormat(num).tickSize(8.5).tickPadding(8));
tidyAxis(cyAxis, 24);

label(2045.5, 59, "A colour-contour plot made with tsp", 29.8);
label(2046, 821, "Time", 24);
label(2567, 819, "2018", 24, {anchor: "end"});
label(1456, 394.5, "Depth [m]", 24, {rotate: -90});

// colour bar
const cbY = d3.scaleLinear().domain([levels[0], levels[levels.length - 1]]).range([717, 74]);
svg.append("g").selectAll("rect")
	.data(levelColors)
	.join("rect")
	.attr("x", 2633).attr("width", 33)
	.attr("y", (c, i) => cbY(levels[i + 1]))
	.attr("height", (c, i) => cbY(levels[i]) - cbY(levels[i + 1]))
	.attr("fill", c => c);
svg.append("rect").attr("x", 2633).attr("y", 74).attr("width", 33).attr("height", 643)
	.attr("fill", "none").attr("stroke", "#000").attr("stroke-width", 1.9);
const cbAxis = svg.append("g").attr("transform", "translate(2666,0)")
	.call(d3.axisRight(cbY).tickValues([0, 5]).tickSize(8.5).tickPadding(7));
tidyAxis(cbAxis, 24);

// ---------- time series plot ----------
const tbox = {x0: 148.4, x1: 1268.6, y0: 938.8, y1: 1690.3};
const tx = d3.scaleUtc().domain([new Date(Date.UTC(2014, 9, 18)), new Date(Date.UTC(2018, 11, 8))]).range([tbox.x0, tbox.x1]);
const ty = d3.scaleLinear().domain([-2.404, 9.053]).range([tbox.y1, tbox.y0]);
const tab10 = d3.schemeCategory10;
const depthColor = d => tab10[legendDepths.indexOf(d) % 10];

svg.append("clipPath").attr("id", "tclip").append("rect")
	.attr("x", tbox.x0).attr("y", tbox.y0).attr("width", tbox.x1 - tbox.x0).attr("height", tbox.y1 - tbox.y0);
const tg = svg.append("g").attr("clip-path", "url(#tclip)");
const tline = d3.line().defined(d => d !== null).x(d => tx(yd(d[0]))).y(d => ty(d[1]));

tg.selectAll("path.series")
	.data(shownSeries)
	.join("path")
	.attr("class", "series")
	.attr("d", tline)
	.attr("fill", "none")
	.attr("stroke", (s, i) => depthColor(shownDepths[i]))
	.attr("stroke-width", 2.8)
	.attr("stroke-linejoin", "round");

svg.append("rect")
	.attr("x", tbox.x0).attr("y", tbox.y0).attr("width", tbox.x1 - tbox.x0).attr("height", tbox.y1 - tbox.y0)
	.attr("fill", "none").attr("stroke", "#000").attr("stroke-width", 2);

const txAxis = svg.append("g").attr("transform", `translate(0,${tbox.y1})`)
	.call(d3.axisBottom(tx).tickValues(tx.ticks(d3.utcMonth.every(6))).tickFormat(d3.utcFormat("%Y-%m")).tickSize(9.3).tickPadding(13).tickSizeOuter(0));
tidyAxis(txAxis, 27);
const tyAxis = svg.append("g").attr("transform", `translate(${tbox.x0},0)`)
	.call(d3.axisLeft(ty).tickValues([-2, 0, 2, 4, 6, 8]).tickFormat(num).tickSize(9.3).tickPadding(9));
tidyAxis(tyAxis, 27);

label(708.5, 922, "A time series plot made with tsp", 33.8);
label(708.5, 1769, "Time", 27);
label(68, 1314.5, "Temperature [\u00b0 C]", 27, {rotate: -90});

// legend
const lg = svg.append("g");
lg.append("rect").attr("x", 1077).attr("y", 960).attr("width", 183).attr("height", 671).attr("rx", 5).attr("fill", "#b0b0b0");
lg.append("rect").attr("x", 1071).attr("y", 953).attr("width", 183).attr("height", 671).attr("rx", 5)
	.attr("fill", "#fff").attr("stroke", "#cccccc").attr("stroke-width", 2);
const entry = lg.selectAll("g.entry")
	.data(legendDepths)
	.join("g")
	.attr("class", "entry")
	.attr("transform", (d, i) => `translate(0,${975.7 + i * 41.46})`);
entry.append("line")
	.attr("x1", 1081).attr("x2", 1140)
	.attr("stroke", d => depthColor(d))
	.attr("stroke-opacity", d => shownDepths.includes(d) ? 1 : 0.2)
	.attr("stroke-width", 2.8);
entry.append("text")
	.attr("x", 1163).attr("dy", "0.36em")
	.attr("font-family", FONT).attr("font-size", 27.5)
	.text(d => d);

// ---------- trumpet plot ----------
const pbox = {x0: 1565, x1: 2518, y0: 933, y1: 1641.5};
const px = d3.scaleLinear().domain([-4.70, 8.99]).range([pbox.x0, pbox.x1]);
const py = d3.scaleLinear().domain([-8, 1]).range([pbox.y1, pbox.y0]);

svg.append("line").attr("x1", px(0)).attr("x2", px(0)).attr("y1", pbox.y0).attr("y2", pbox.y1)
	.attr("stroke", "#8a8a8a").attr("stroke-width", 1.2).attr("stroke-dasharray", "1.5,3");
svg.append("line").attr("x1", pbox.x0).attr("x2", pbox.x1).attr("y1", py(0)).attr("y2", py(0))
	.attr("stroke", "#8a8a8a").attr("stroke-width", 1.2).attr("stroke-dasharray", "1.5,3");

const profiles = [
	{values: trumpetMin, color: "#0000ff"},
	{values: trumpetMax, color: "#ff0000"},
	{values: trumpetMean, color: "#000000"}
];
const pline = d3.line().x(d => px(d[0])).y(d => py(d[1]));
profiles.forEach(p => {
	const pts = p.values.map((v, i) => [v, trumpetDepths[i]]);
	svg.append("path").attr("d", pline(pts))
		.attr("fill", "none").attr("stroke", p.color).attr("stroke-width", 3.2).attr("stroke-linejoin", "round");
	svg.append("g").selectAll("circle")
		.data(pts)
		.join("circle")
		.attr("cx", d => px(d[0])).attr("cy", d => py(d[1])).attr("r", 5)
		.attr("fill", p.color);
});

svg.append("rect")
	.attr("x", pbox.x0).attr("y", pbox.y0).attr("width", pbox.x1 - pbox.x0).attr("height", pbox.y1 - pbox.y0)
	.attr("fill", "none").attr("stroke", "#000").attr("stroke-width", 2);

const pxAxis = svg.append("g").attr("transform", `translate(0,${pbox.y1})`)
	.call(d3.axisBottom(px).tickValues([-4, -2, 0, 2, 4, 6, 8]).tickFormat(num).tickSize(9.3).tickPadding(10).tickSizeOuter(0));
tidyAxis(pxAxis, 27);
const pyAxis = svg.append("g").attr("transform", `translate(${pbox.x0},0)`)
	.call(d3.axisLeft(py).tickValues(d3.range(1, -9, -1)).tickFormat(num).tickSize(9.3).tickPadding(9));
tidyAxis(pyAxis, 27);

label(2041.5, 916, "A trumpet plot made with tsp", 32);
label(2042, 1719, "Temperature [\u00b0 C]", 27);
label(1491, 1287, "Depth [m]", 27, {rotate: -90});
</script>
</body>
</html>
